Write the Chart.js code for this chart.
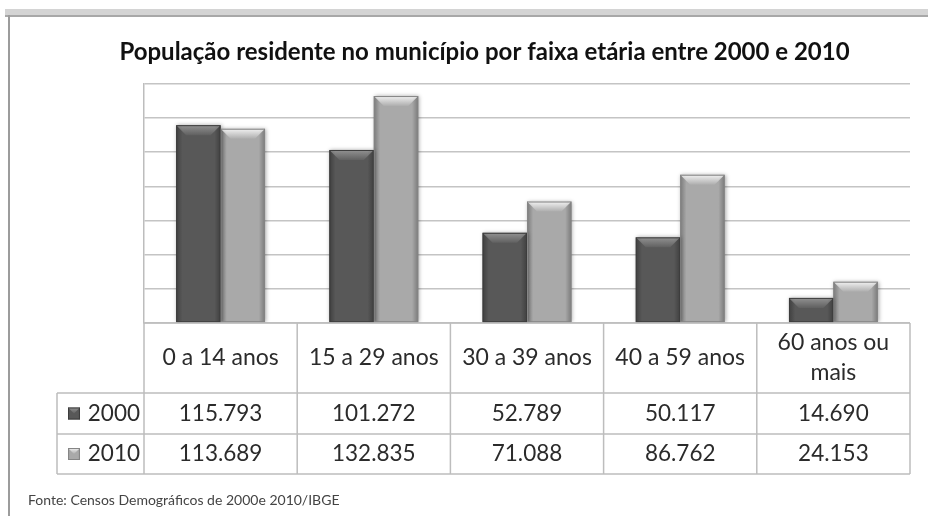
<!DOCTYPE html>
<html>
<head>
<meta charset="utf-8">
<script src="https://cdn.jsdelivr.net/npm/chart.js@4/dist/chart.umd.min.js"></script>
<style>
  body { margin: 0; background: #fff; }
  #wrap { position: relative; width: 928px; height: 516px; overflow: hidden; }
  .band { position: absolute; left: 5px; top: 9px; width: 923px; height: 6px; background: #d4d4d4; }
  .bandline { position: absolute; left: 5px; top: 15px; width: 923px; height: 2px; background: #a8a8a8; }
  .side { position: absolute; left: 8px; top: 15px; width: 2px; height: 501px; background: #9c9c9c; }
  canvas { position: absolute; left: 0; top: 0; }
</style>
</head>
<body>
<div id="wrap">
  <div class="band"></div>
  <div class="bandline"></div>
  <div class="side"></div>
  <canvas id="chart" width="928" height="516"></canvas>
</div>
<script>
// chart data
const categories = ["0 a 14 anos", "15 a 29 anos", "30 a 39 anos", "40 a 59 anos", ["60 anos ou", "mais"]];
const seriesNames = ["2000", "2010"];
const values2000 = [115793, 101272, 52789, 50117, 14690];
const values2010 = [113689, 132835, 71088, 86762, 24153];
const yTicks = [0, 20000, 40000, 60000, 80000, 100000, 120000, 140000];
const titleText = "População residente no município por faixa etária entre 2000 e 2010";
const sourceText = "Fonte: Censos Demográficos de 2000e 2010/IBGE";

const FONT = "Lato, 'Open Sans', sans-serif";
const fills = ["#585858", "#a9a9a9"];
const edges = ["#3c3c3c", "#858585"];
const bevels = ["rgba(255,255,255,0.35)", "rgba(255,255,255,0.85)"];

// 115793 -> "115.793"
function fmt(v) {
  return String(v).replace(/\B(?=(\d{3})+(?!\d))/g, ".");
}

// draws the Excel-like bevel on a bar box
function bevelBar(ctx, left, right, top, bottom, idx) {
  const w = right - left;
  const side = ctx.createLinearGradient(left, 0, right, 0);
  side.addColorStop(0, "rgba(0,0,0,0.28)");
  side.addColorStop(0.14, "rgba(0,0,0,0)");
  side.addColorStop(0.86, "rgba(0,0,0,0)");
  side.addColorStop(1, "rgba(0,0,0,0.28)");
  ctx.fillStyle = side;
  ctx.fillRect(left, top, w, bottom - top);

  const b = Math.min(10, (bottom - top) / 2);
  const g = ctx.createLinearGradient(0, top, 0, top + b);
  g.addColorStop(0, bevels[idx]);
  g.addColorStop(1, "rgba(255,255,255,0.05)");
  ctx.beginPath();
  ctx.moveTo(left, top);
  ctx.lineTo(right, top);
  ctx.lineTo(right - b, top + b);
  ctx.lineTo(left + b, top + b);
  ctx.closePath();
  ctx.fillStyle = g;
  ctx.fill();
  ctx.strokeStyle = edges[idx];
  ctx.lineWidth = 1;
  ctx.strokeRect(left + 0.5, top + 0.5, w - 1, bottom - top - 1);
}

const barLook = {
  id: "barLook",
  beforeDatasetsDraw(chart) {
    const ctx = chart.ctx;
    ctx.save();
    ctx.shadowColor = "rgba(0,0,0,0.35)";
    ctx.shadowBlur = 4;
    ctx.shadowOffsetX = 1;
    ctx.shadowOffsetY = 0;
  },
  afterDatasetsDraw(chart) {
    const ctx = chart.ctx;
    ctx.restore();
    ctx.save();
    chart.data.datasets.forEach((ds, di) => {
      chart.getDatasetMeta(di).data.forEach((bar) => {
        const left = bar.x - bar.width / 2;
        bevelBar(ctx, left, left + bar.width, bar.y, bar.base, di);
      });
    });
    ctx.restore();
  }
};

// data table under the plot, columns taken from the x scale
const dataTable = {
  id: "dataTable",
  afterDraw(chart) {
    const ctx = chart.ctx;
    const x = chart.scales.x;
    const area = chart.chartArea;
    const n = categories.length;
    const colW = (area.right - area.left) / n;
    const rowTops = [area.bottom, area.bottom + 70, area.bottom + 111, x.bottom];
    const tableLeft = 57;
    const rows = [values2000, values2010];

    ctx.save();
    ctx.strokeStyle = "#bdbdbd";
    ctx.lineWidth = 1.5;
    ctx.beginPath();
    // horizontal lines
    ctx.moveTo(area.left, rowTops[0]); ctx.lineTo(area.right, rowTops[0]);
    for (let r = 1; r < rowTops.length; r++) {
      ctx.moveTo(tableLeft, rowTops[r]); ctx.lineTo(area.right, rowTops[r]);
    }
    // vertical lines
    for (let i = 0; i <= n; i++) {
      const xx = i === n ? x.getPixelForValue(n - 1) + colW / 2 : x.getPixelForValue(i) - colW / 2;
      ctx.moveTo(xx, rowTops[0]); ctx.lineTo(xx, rowTops[3]);
    }
    ctx.moveTo(tableLeft, rowTops[1]); ctx.lineTo(tableLeft, rowTops[3]);
    ctx.stroke();

    ctx.fillStyle = "#2b2b2b";
    ctx.textAlign = "center";
    ctx.textBaseline = "middle";
    ctx.font = "23px " + FONT;
    categories.forEach((c, i) => {
      const cx = x.getPixelForValue(i);
      const mid = (rowTops[0] + rowTops[1]) / 2;
      if (Array.isArray(c)) {
        ctx.fillText(c[0], cx, mid - 15);
        ctx.fillText(c[1], cx, mid + 15);
      } else {
        ctx.fillText(c, cx, mid);
      }
    });
    ctx.font = "22.5px " + FONT;
    rows.forEach((vals, r) => {
      const mid = (rowTops[r + 1] + rowTops[r + 2]) / 2;
      vals.forEach((v, i) => {
        ctx.fillText(fmt(v), x.getPixelForValue(i), mid);
      });
      // legend key + series name
      ctx.fillStyle = fills[r];
      ctx.fillRect(68, mid - 6, 12, 12);
      bevelBar(ctx, 68, 80, mid - 6, mid + 6, r);
      ctx.fillStyle = "#2b2b2b";
      ctx.textAlign = "right";
      ctx.fillText(seriesNames[r], area.left - 4, mid);
      ctx.textAlign = "center";
    });

    ctx.textAlign = "left";
    ctx.font = "14px " + FONT;
    ctx.fillStyle = "#444";
    ctx.fillText(sourceText, 28, 500);
    ctx.restore();
  }
};

new Chart(document.getElementById("chart"), {
  type: "bar",
  data: {
    labels: categories,
    datasets: [
      { label: seriesNames[0], data: values2000, backgroundColor: fills[0] },
      { label: seriesNames[1], data: values2010, backgroundColor: fills[1] }
    ]
  },
  options: {
    responsive: false,
    animation: false,
    devicePixelRatio: 1,
    layout: { padding: { left: 59, right: 18, top: 0, bottom: 42 } },
    datasets: { bar: { categoryPercentage: 0.58, barPercentage: 1.0 } },
    plugins: {
      legend: { display: false },
      tooltip: { enabled: false },
      title: {
        display: true,
        text: titleText,
        color: "#111",
        font: { family: FONT, size: 24, weight: "bold" },
        padding: { top: 38, bottom: 17 }
      }
    },
    scales: {
      x: {
        grid: { display: false, drawTicks: false },
        border: { display: false },
        ticks: { display: false },
        afterFit: (s) => { s.height = 151; }
      },
      y: {
        min: yTicks[0],
        max: yTicks[yTicks.length - 1],
        afterBuildTicks: (s) => { s.ticks = yTicks.map((v) => ({ value: v })); },
        ticks: { display: false },
        grid: { color: "#c4c4c4", lineWidth: 1.5, drawTicks: false },
        border: { display: true, color: "#bdbdbd", width: 1.5 },
        afterFit: (s) => { s.width = 85; }
      }
    }
  },
  plugins: [barLook, dataTable]
});
</script>
</body>
</html>
